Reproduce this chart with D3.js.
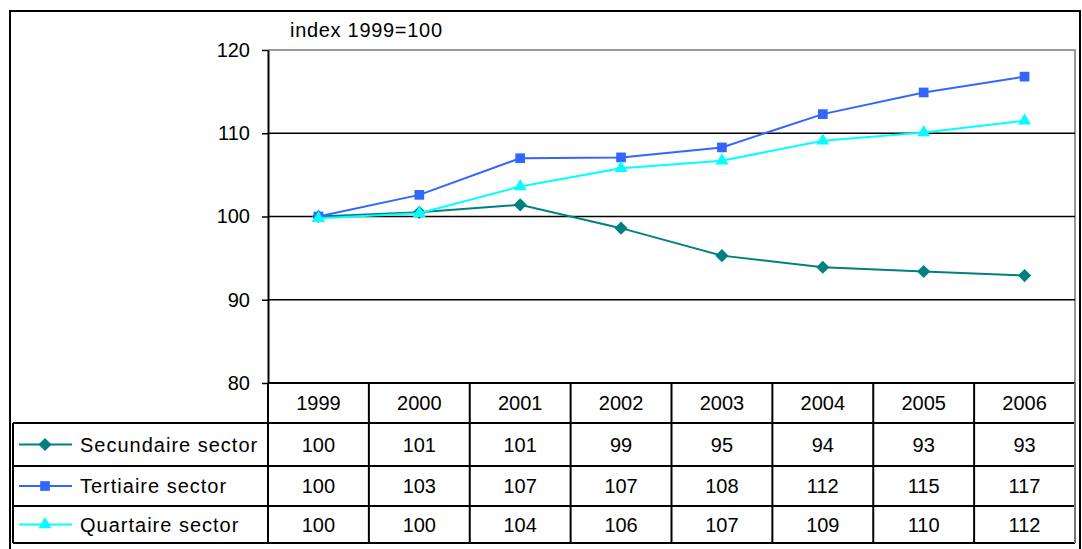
<!DOCTYPE html>
<html>
<head>
<meta charset="utf-8">
<script src="https://cdn.jsdelivr.net/npm/d3@7"></script>
<style>
  body { margin: 0; background: #fff; }
  svg text { font-family: "Liberation Sans", Arial, sans-serif; fill: #000; }
</style>
</head>
<body>
<svg id="chart" width="1082" height="549"></svg>
<script>
// data
const years = ["1999", "2000", "2001", "2002", "2003", "2004", "2005", "2006"];
const seriesNames = ["Secundaire sector", "Tertiaire sector", "Quartaire sector"];
const secundaire = [100, 100.5, 101.4, 98.6, 95.3, 93.9, 93.4, 92.9];
const tertiaire = [100, 102.6, 107, 107.1, 108.3, 112.3, 114.9, 116.8];
const quartaire = [99.8, 100.4, 103.6, 105.8, 106.7, 109.1, 110.1, 111.5];
const secundaireLabels = [100, 101, 101, 99, 95, 94, 93, 93];
const tertiaireLabels = [100, 103, 107, 107, 108, 112, 115, 117];
const quartaireLabels = [100, 100, 104, 106, 107, 109, 110, 112];
const yTicks = [80, 90, 100, 110, 120];
const colors = ["#008080", "#3366ff", "#00ffff"];

const series = [
  { name: seriesNames[0], values: secundaire, labels: secundaireLabels, color: colors[0], symbol: d3.symbolDiamond2, size: 110 },
  { name: seriesNames[1], values: tertiaire, labels: tertiaireLabels, color: colors[1], symbol: d3.symbolSquare2, size: 120 },
  { name: seriesNames[2], values: quartaire, labels: quartaireLabels, color: colors[2], symbol: d3.symbolTriangle2, size: 120 },
];

const svg = d3.select("#chart");

// layout
const plotLeft = 268, plotRight = 1075, plotTop = 50, plotBottom = 383;
const rowLines = [383, 423, 466, 506, 543];
const tableLeft = 13;

const x = d3.scaleBand().domain(years).range([plotLeft, plotRight]);
const y = d3.scaleLinear().domain([80, 120]).range([plotBottom, plotTop]);

// outer border
svg.append("rect")
  .attr("x", 10).attr("y", 11)
  .attr("width", 1070).attr("height", 545)
  .attr("fill", "none").attr("stroke", "#000").attr("stroke-width", 2);

// plot frame (gray top and right)
svg.append("path")
  .attr("d", `M${plotLeft},${plotTop}H${plotRight}V${plotBottom}`)
  .attr("fill", "none").attr("stroke", "#999").attr("stroke-width", 2);

// grid lines
svg.selectAll(".grid")
  .data(yTicks.filter((t) => t > 80 && t < 120))
  .join("line")
  .attr("class", "grid")
  .attr("x1", plotLeft).attr("x2", plotRight)
  .attr("y1", (d) => y(d)).attr("y2", (d) => y(d))
  .attr("stroke", "#000").attr("stroke-width", 1.5);

// y axis
const yAxis = svg.append("g")
  .attr("transform", `translate(${plotLeft},0)`)
  .call(d3.axisLeft(y).tickValues(yTicks).tickSize(6).tickPadding(12).tickSizeOuter(0));
yAxis.select(".domain").attr("stroke", "#000").attr("stroke-width", 2);
yAxis.selectAll(".tick line").attr("stroke", "#000").attr("stroke-width", 1.5);
yAxis.selectAll(".tick text")
  .style("font-size", "20px")
  .style("font-family", "'Liberation Sans', Arial, sans-serif")
  .attr("fill", "#000");

svg.append("text")
  .attr("x", 290).attr("y", 37)
  .style("font-size", "20px")
  .style("letter-spacing", "0.7px")
  .text("index 1999=100");

// table
const table = svg.append("g");
rowLines.forEach((ry, i) => {
  table.append("line")
    .attr("x1", i === 0 ? plotLeft : tableLeft).attr("x2", plotRight)
    .attr("y1", ry).attr("y2", ry)
    .attr("stroke", "#000").attr("stroke-width", 2);
});
table.append("line")
  .attr("x1", tableLeft).attr("x2", tableLeft)
  .attr("y1", rowLines[1]).attr("y2", rowLines[4])
  .attr("stroke", "#000").attr("stroke-width", 2);
[plotLeft, ...years.map((yr) => x(yr) + x.bandwidth())].forEach((cx) => {
  table.append("line")
    .attr("x1", cx).attr("x2", cx)
    .attr("y1", rowLines[0]).attr("y2", rowLines[4])
    .attr("stroke", cx === plotRight ? "#777" : "#000").attr("stroke-width", 2);
});

// header years
table.selectAll(".year")
  .data(years)
  .join("text")
  .attr("class", "year")
  .attr("x", (d) => x(d) + x.bandwidth() / 2)
  .attr("y", (rowLines[0] + rowLines[1]) / 2)
  .attr("dy", "0.36em")
  .attr("text-anchor", "middle")
  .style("font-size", "20px")
  .text((d) => d);

// rows
series.forEach((s, i) => {
  const cy = (rowLines[i + 1] + rowLines[i + 2]) / 2;
  const row = table.append("g");
  row.append("line")
    .attr("x1", 19).attr("x2", 72)
    .attr("y1", cy).attr("y2", cy)
    .attr("stroke", s.color).attr("stroke-width", 2);
  row.append("path")
    .attr("d", d3.symbol(s.symbol, s.size)())
    .attr("transform", `translate(45,${cy})`)
    .attr("fill", s.color);
  row.append("text")
    .attr("x", 80).attr("y", cy).attr("dy", "0.36em")
    .style("font-size", "20px")
    .style("letter-spacing", "1px")
    .text(s.name);
  row.selectAll(".val")
    .data(s.labels)
    .join("text")
    .attr("class", "val")
    .attr("x", (d, j) => x(years[j]) + x.bandwidth() / 2)
    .attr("y", cy).attr("dy", "0.36em")
    .attr("text-anchor", "middle")
    .style("font-size", "20px")
    .text((d) => d);
});

// lines + markers
const line = d3.line()
  .x((d, j) => x(years[j]) + x.bandwidth() / 2)
  .y((d) => y(d));

series.forEach((s) => {
  svg.append("path")
    .datum(s.values)
    .attr("d", line)
    .attr("fill", "none")
    .attr("stroke", s.color)
    .attr("stroke-width", 2);
  svg.selectAll(null)
    .data(s.values)
    .join("path")
    .attr("d", d3.symbol(s.symbol, s.size)())
    .attr("transform", (d, j) => `translate(${x(years[j]) + x.bandwidth() / 2},${y(d)})`)
    .attr("fill", s.color);
});
</script>
</body>
</html>
